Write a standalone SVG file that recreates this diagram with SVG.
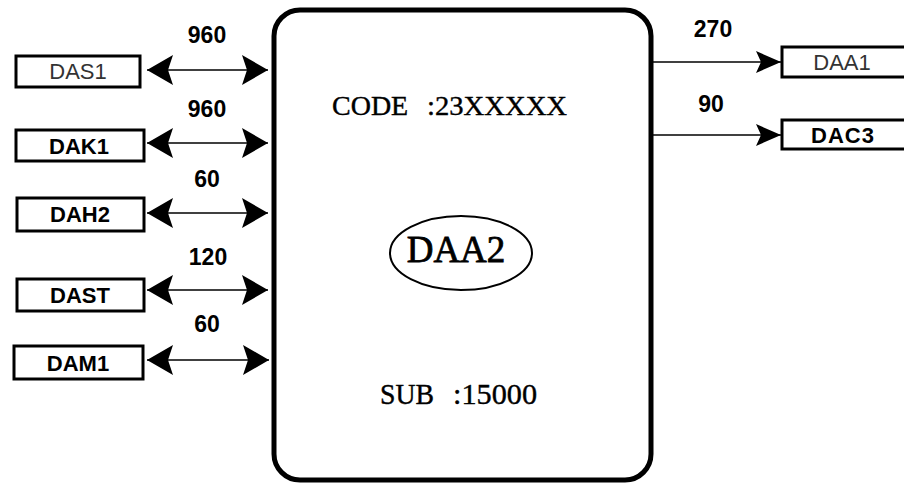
<svg xmlns="http://www.w3.org/2000/svg" width="904" height="484" viewBox="0 0 904 484">
<style>
.bg{fill:#ffffff}
.sbox{fill:#ffffff;stroke:#000;stroke-width:3}
.main{fill:#ffffff;stroke:#000;stroke-width:5}
.lbl{font-family:"Liberation Sans",Arial,sans-serif;font-weight:bold;font-size:22px;fill:#000;text-anchor:middle}
.num{font-family:"Liberation Sans",Arial,sans-serif;font-weight:bold;font-size:23px;fill:#000;text-anchor:middle}
.ser{font-family:"Liberation Serif","Times New Roman",serif;fill:#000;stroke:#000;stroke-width:0.4}
.conn{stroke:#000;stroke-width:1.5;fill:none}
</style>
<defs>
<marker id="ah" markerUnits="userSpaceOnUse" markerWidth="28" markerHeight="32" refX="26" refY="16" orient="auto-start-reverse" viewBox="0 0 28 32">
<path d="M0,1 L26,16 L0,31 L5,16 Z" fill="#000"/>
</marker>
<marker id="ahs" markerUnits="userSpaceOnUse" markerWidth="26" markerHeight="24" refX="25" refY="12" orient="auto" viewBox="0 0 26 24">
<path d="M0,1 L25,12 L0,23 L5,12 Z" fill="#000"/>
</marker>
</defs>
<rect class="bg" x="0" y="0" width="904" height="484"/>

<g id="connectors">
<line class="conn" x1="147" y1="70" x2="268" y2="70" marker-start="url(#ah)" marker-end="url(#ah)"/>
<line class="conn" x1="147" y1="143" x2="268" y2="143" marker-start="url(#ah)" marker-end="url(#ah)"/>
<line class="conn" x1="147" y1="213" x2="268" y2="213" marker-start="url(#ah)" marker-end="url(#ah)"/>
<line class="conn" x1="147" y1="290" x2="268" y2="290" marker-start="url(#ah)" marker-end="url(#ah)"/>
<line class="conn" x1="147" y1="360" x2="269" y2="360" marker-start="url(#ah)" marker-end="url(#ah)"/>
<line class="conn" x1="652" y1="62" x2="781" y2="62" marker-end="url(#ahs)"/>
<line class="conn" x1="652" y1="135" x2="781" y2="135" marker-end="url(#ahs)"/>
<text class="num" x="207" y="43">960</text>
<text class="num" x="207" y="117">960</text>
<text class="num" x="207" y="187">60</text>
<text class="num" x="208" y="265">120</text>
<text class="num" x="207" y="332">60</text>
<text class="num" x="713" y="37">270</text>
<text class="num" x="711" y="112">90</text>
</g>

<g id="node-DAA2">
<rect class="main" x="274" y="10" width="377" height="470" rx="26" ry="26"/>
<text class="ser" x="332" y="115" font-size="28">CODE</text>
<text class="ser" x="427" y="115" font-size="28" textLength="140" lengthAdjust="spacingAndGlyphs">:23XXXXX</text>
<ellipse cx="461" cy="253" rx="71" ry="37" fill="none" stroke="#000" stroke-width="2"/>
<text class="ser" x="456" y="262" font-size="37" text-anchor="middle" style="stroke-width:0.8">DAA2</text>
<text class="ser" x="380" y="404" font-size="29" textLength="54" lengthAdjust="spacingAndGlyphs">SUB</text>
<text class="ser" x="453" y="404" font-size="29" textLength="84" lengthAdjust="spacingAndGlyphs">:15000</text>
</g>

<g id="node-DAS1">
<rect class="sbox" x="16" y="56" width="124" height="31"/>
<text class="lbl" x="78" y="79" style="font-weight:normal;fill:#333">DAS1</text>
</g>
<g id="node-DAK1">
<rect class="sbox" x="16" y="130" width="128" height="31"/>
<text class="lbl" x="79" y="154">DAK1</text>
</g>
<g id="node-DAH2">
<rect class="sbox" x="17" y="198" width="127" height="33"/>
<text class="lbl" x="80" y="222">DAH2</text>
</g>
<g id="node-DAST">
<rect class="sbox" x="17" y="279" width="127" height="32"/>
<text class="lbl" x="80" y="303">DAST</text>
</g>
<g id="node-DAM1">
<rect class="sbox" x="14" y="346" width="129" height="33"/>
<text class="lbl" x="78" y="371">DAM1</text>
</g>
<g id="node-DAA1">
<rect class="sbox" x="782" y="47" width="126" height="30"/>
<text class="lbl" x="842" y="70" style="font-weight:normal;fill:#333">DAA1</text>
</g>
<g id="node-DAC3">
<rect class="sbox" x="782" y="120" width="126" height="29"/>
<text class="lbl" x="843" y="143" letter-spacing="1">DAC3</text>
</g>
</svg>
